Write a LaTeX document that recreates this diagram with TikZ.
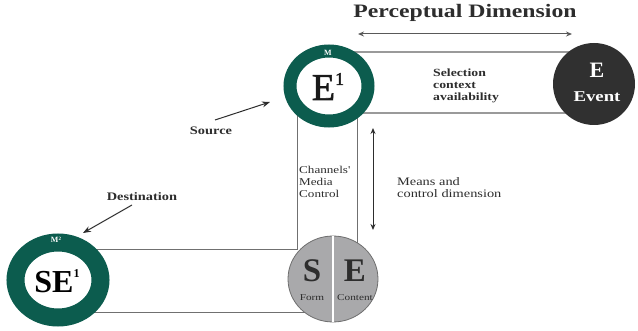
\documentclass[tikz,border=0pt]{standalone}
\usepackage{fontspec}
\setmainfont{Liberation Serif}
\newfontfamily\labfont{Liberation Serif}[FakeStretch=1.25]
\newfontfamily\heavyfont{Liberation Serif}[FakeBold=1.6]
\usetikzlibrary{shapes.geometric,arrows.meta}
\pgfdeclarelayer{background}
\pgfsetlayers{background,main}
\definecolor{ringgreen}{RGB}{12,92,78}
\definecolor{eventgray}{RGB}{48,48,48}
\definecolor{discgray}{RGB}{169,169,171}
\definecolor{discedge}{RGB}{110,110,110}
\definecolor{inkgray}{RGB}{45,45,45}
\definecolor{palegray}{RGB}{154,154,154}
\definecolor{midgray}{RGB}{112,112,112}
\begin{document}
\begin{tikzpicture}[x=1pt,y=-1pt,
  ring/.style={ellipse, draw=ringgreen, fill=white, inner sep=0pt, outer sep=0pt},
  disc/.style={ellipse, fill=discgray, draw=discedge, line width=0.8pt, inner sep=0pt, outer sep=0pt},
  evdisc/.style={circle, fill=eventgray, inner sep=0pt, outer sep=0pt},
  lab/.style={text=inkgray, inner sep=0pt, font=\labfont\fontsize{11.5}{12}\selectfont},
  labbf/.style={lab, font=\labfont\bfseries\fontsize{11.5}{12}\selectfont},
  ringmark/.style={text=white, inner sep=0pt, font=\bfseries\fontsize{8}{8}\selectfont},
  faintline/.style={draw=palegray, line width=1.2pt},
  chanline/.style={draw=midgray, line width=1pt},
  dimarrow/.style={draw=inkgray, line width=1pt, {Stealth[length=6pt,width=5pt]}-{Stealth[length=6pt,width=5pt]}},
  pointer/.style={draw=inkgray, line width=1pt, -{Stealth[length=8pt,width=6pt]}}
]
\useasboundingbox (0,0) rectangle (638,331);

% circles
\node[ring, line width=13pt, minimum width=78pt, minimum height=70pt] (E1) at (329,86) {};
\node[ring, line width=18pt, minimum width=85pt, minimum height=75pt] (SE) at (58,280) {};
\node[disc, minimum width=90pt, minimum height=86pt] (G) at (333,279) {};
\node[evdisc, minimum size=82pt] (Ev) at (594,84) {};

% split of the form/content disc
\draw[white, line width=1.3pt] (G.north) -- (G.south);

% channels between the circles
\coordinate (corner) at (297,250);
\begin{pgfonlayer}{background}
  \draw[faintline] (E1.center |- 0,52) -- (Ev.center |- 0,52);
  \draw[faintline] (E1.center |- 0,113) -- (Ev.center |- 0,113);
  \draw[chanline] (E1.center -| 297,0) -- (corner) -- (SE.center |- corner);
  \draw[chanline] (E1.center -| 357,0) -- (G.center -| 357,0);
  \draw[chanline] (SE.center |- 0,313) -- (G.center |- 0,313);
\end{pgfonlayer}

% letters in the circles
\node[anchor=base, inner sep=0pt, text=black!90, font=\heavyfont\fontsize{38}{38}\selectfont] (E1txt) at (328,100)
  {E\raisebox{15pt}{\fontsize{18}{18}\selectfont 1}};
\node[ringmark] (E1m) at (328,53) {M};
\node[anchor=base, inner sep=0pt, text=black, font=\bfseries\fontsize{32}{32}\selectfont] (SEtxt) at (57,293)
  {SE\raisebox{15pt}{\fontsize{12}{12}\selectfont 1}};
\node[ringmark] (SEm) at (56,240) {M\raisebox{2.5pt}{\fontsize{5}{5}\selectfont 2}};
\node[anchor=base, inner sep=0pt, text=inkgray, font=\bfseries\fontsize{33}{33}\selectfont] (Stxt) at (312,282) {S};
\node[anchor=base, inner sep=0pt, text=inkgray, font=\bfseries\fontsize{33}{33}\selectfont] (Etxt) at (355,282) {E};
\node[anchor=base, inner sep=0pt, text=inkgray, font=\labfont\fontsize{9}{9}\selectfont] (form) at (312,301) {Form};
\node[anchor=base, inner sep=0pt, text=inkgray, font=\labfont\fontsize{9}{9}\selectfont] (content) at (355,301) {Content};
\node[anchor=base, inner sep=0pt, text=white, font=\bfseries\fontsize{22}{22}\selectfont] (Evl) at (597,78) {E};
\node[anchor=base, inner sep=0pt, text=white, font=\labfont\bfseries\fontsize{15}{15}\selectfont] (Evw) at (597,102) {Event};

% dimension labels and arrows
\node[anchor=base, lab, font=\labfont\bfseries\fontsize{19}{19}\selectfont] (perc) at (465,17.5) {Perceptual Dimension};
\coordinate (pdl) at (358,34);
\coordinate (pdr) at (572,34);
\draw[dimarrow, draw=black!65] (pdl) -- (pdr);

\coordinate (mct) at (373,128);
\coordinate (mcb) at (373,230);
\draw[dimarrow] (mct) -- (mcb);
\node[lab, anchor=west, align=left] (means) at (397,188) {Means and\\control dimension};

\node[labbf, anchor=west, align=left, font=\labfont\bfseries\fontsize{11}{12}\selectfont] (sel) at (433,85.5) {Selection\\context\\availability};
\node[lab, anchor=west, align=left, font=\labfont\fontsize{10.5}{11.8}\selectfont] (chan) at (299,182) {Channels'\\Media\\Control};

% source and destination pointers
\node[labbf, anchor=base] (src) at (211,135) {Source};
\coordinate (srcA) at (215,120);
\coordinate (srcB) at (270,102);
\draw[pointer] (srcA) -- (srcB);

\node[labbf, anchor=base] (dst) at (142,201) {Destination};
\coordinate (dstA) at (132,205);
\coordinate (dstB) at (83,233);
\draw[pointer] (dstA) -- (dstB);
\end{tikzpicture}
\end{document}
